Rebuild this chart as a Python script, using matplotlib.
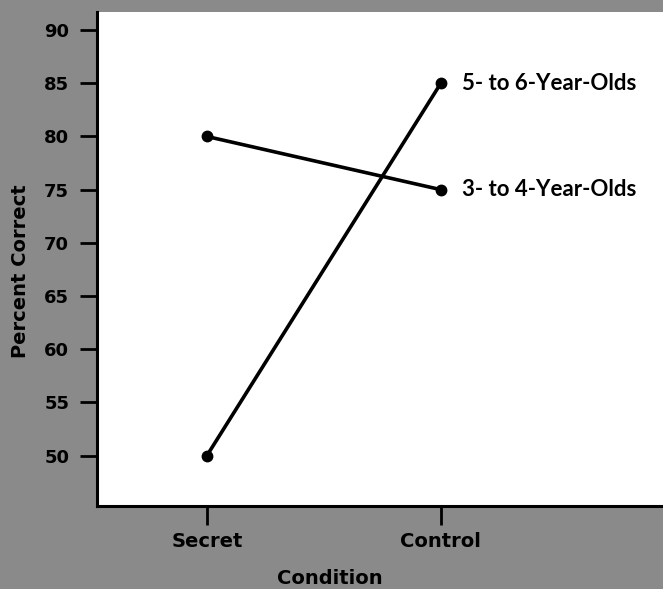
import matplotlib.pyplot as plt

conditions = ["Secret", "Control"]
older = [50, 85]    # 5- to 6-Year-Olds
younger = [80, 75]  # 3- to 4-Year-Olds
series_labels = ["5- to 6-Year-Olds", "3- to 4-Year-Olds"]
y_ticks = [50, 55, 60, 65, 70, 75, 80, 85, 90]

plt.rcParams['font.family'] = ['DejaVu Sans']

fig = plt.figure(figsize=(6.63, 5.89), dpi=100, facecolor='#8a8a8a')
ax = fig.add_axes([0.1463, 0.1409, 0.8537, 0.8387])
ax.set_facecolor('white')

x = [1, 2]
ax.plot(x, older, color='black', lw=2.6, marker='o', ms=7.5)
ax.plot(x, younger, color='black', lw=2.6, marker='o', ms=7.5)

# labels at the right-hand end of each line
ax.text(2.09, older[1], series_labels[0], fontsize=16, fontweight='bold',
        family=['Lato', 'DejaVu Sans'], va='center', ha='left')
ax.text(2.09, younger[1], series_labels[1], fontsize=16, fontweight='bold',
        family=['Lato', 'DejaVu Sans'], va='center', ha='left')

ax.set_xlim(0.53, 2.95)
ax.set_ylim(45.26, 91.7)
ax.set_xticks(x)
ax.set_xticklabels(conditions)
ax.set_yticks(y_ticks)

ax.spines['top'].set_visible(False)
ax.spines['right'].set_visible(False)
ax.spines['left'].set_linewidth(2.2)
ax.spines['bottom'].set_linewidth(2.2)
ax.tick_params(axis='y', direction='out', length=12, width=2, labelsize=13, pad=8)
ax.tick_params(axis='x', direction='out', length=14, width=2, labelsize=14, pad=5)
for lab in ax.get_xticklabels() + ax.get_yticklabels():
    lab.set_fontweight('bold')

ax.set_xlabel("Condition", fontsize=14, fontweight='bold', va='center')
ax.set_ylabel("Percent Correct", fontsize=14, fontweight='bold', va='center')
ax.xaxis.set_label_coords(0.412, -0.146)
ax.yaxis.set_label_coords(-0.136, 0.476)

fig.savefig("out.png", dpi=100, facecolor=fig.get_facecolor())
